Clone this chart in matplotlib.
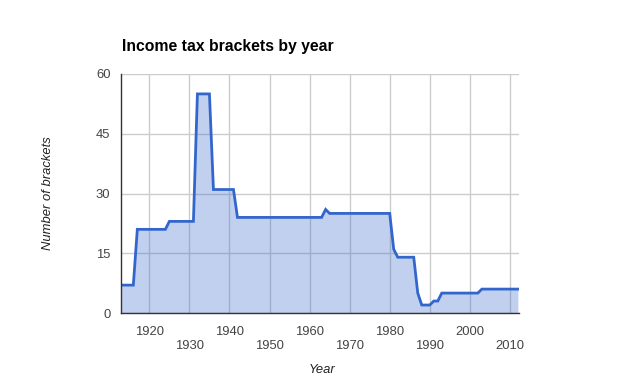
import matplotlib
matplotlib.use("Agg")
import matplotlib.pyplot as plt
from matplotlib.ticker import FixedLocator, FixedFormatter

years = [1913, 1914, 1915, 1916, 1917, 1918, 1919, 1920, 1921, 1922, 1923, 1924,
         1925, 1926, 1927, 1928, 1929, 1930, 1931, 1932, 1933, 1934, 1935, 1936,
         1937, 1938, 1939, 1940, 1941, 1942, 1943, 1944, 1945, 1946, 1947, 1948,
         1949, 1950, 1951, 1952, 1953, 1954, 1955, 1956, 1957, 1958, 1959, 1960,
         1961, 1962, 1963, 1964, 1965, 1966, 1967, 1968, 1969, 1970, 1971, 1972,
         1973, 1974, 1975, 1976, 1977, 1978, 1979, 1980, 1981, 1982, 1983, 1984,
         1985, 1986, 1987, 1988, 1989, 1990, 1991, 1992, 1993, 1994, 1995, 1996,
         1997, 1998, 1999, 2000, 2001, 2002, 2003, 2004, 2005, 2006, 2007, 2008,
         2009, 2010, 2011, 2012]
brackets = [7, 7, 7, 7, 21, 21, 21, 21, 21, 21, 21, 21,
            23, 23, 23, 23, 23, 23, 23, 55, 55, 55, 55, 31,
            31, 31, 31, 31, 31, 24, 24, 24, 24, 24, 24, 24,
            24, 24, 24, 24, 24, 24, 24, 24, 24, 24, 24, 24,
            24, 24, 24, 26, 25, 25, 25, 25, 25, 25, 25, 25,
            25, 25, 25, 25, 25, 25, 25, 25, 16, 14, 14, 14,
            14, 14, 5, 2, 2, 2, 3, 3, 5, 5, 5, 5,
            5, 5, 5, 5, 5, 5, 6, 6, 6, 6, 6, 6,
            6, 6, 6, 6]

title = "Income tax brackets by year"
x_label = "Year"
y_label = "Number of brackets"
x_major = [1920, 1940, 1960, 1980, 2000]
x_minor = [1930, 1950, 1970, 1990, 2010]
y_ticks = [0, 15, 30, 45, 60]

plt.rcParams['font.family'] = ['Liberation Sans', 'DejaVu Sans']

fig = plt.figure(figsize=(6.39, 3.88), dpi=100)
ax = fig.add_axes([121.3/639, 1-313/388, (518.7-121.3)/639, (313-74)/388])

line_c = '#3366cc'
ax.fill_between(years, brackets, 0, color=line_c, alpha=0.3, linewidth=0, zorder=2)
ax.plot(years, brackets, color=line_c, linewidth=2, zorder=3, solid_joinstyle='miter')

ax.set_xlim(1913, 2012.2)
ax.set_ylim(0, 60)

ax.xaxis.set_major_locator(FixedLocator(x_major))
ax.xaxis.set_major_formatter(FixedFormatter([str(v) for v in x_major]))
ax.xaxis.set_minor_locator(FixedLocator(x_minor))
ax.xaxis.set_minor_formatter(FixedFormatter([str(v) for v in x_minor]))
ax.set_yticks(y_ticks)
ax.set_yticklabels([str(v) for v in y_ticks])

fs = 9.4
ax.tick_params(axis='x', which='major', length=0, pad=9.6, labelsize=fs, labelcolor='#444444')
ax.tick_params(axis='x', which='minor', length=0, pad=19.7, labelsize=fs, labelcolor='#444444')
ax.tick_params(axis='y', length=0, pad=7.8, labelsize=fs, labelcolor='#444444')

ax.grid(True, which='both', axis='x', color='#cccccc', linewidth=1, zorder=1)
ax.grid(True, which='major', axis='y', color='#cccccc', linewidth=1, zorder=1)
ax.set_axisbelow(True)

for s in ['top', 'right']:
    ax.spines[s].set_visible(False)
ax.spines['left'].set_color('#333333')
ax.spines['bottom'].set_color('#333333')
ax.spines['left'].set_linewidth(1)
ax.spines['bottom'].set_linewidth(1)
ax.spines['left'].set_zorder(4)
ax.spines['bottom'].set_zorder(4)

fig.text(121.5/639, 1-46/388, title, fontsize=11.3, fontweight='bold', color='black',
         ha='left', va='center')
fig.text(322/639, 1-370/388, x_label, fontsize=fs, style='italic', color='#222222',
         ha='center', va='center')
fig.text(48/639, 1-193/388, y_label, fontsize=fs, style='italic', color='#222222',
         ha='center', va='center', rotation=90)

fig.savefig('out.png', dpi=100)
